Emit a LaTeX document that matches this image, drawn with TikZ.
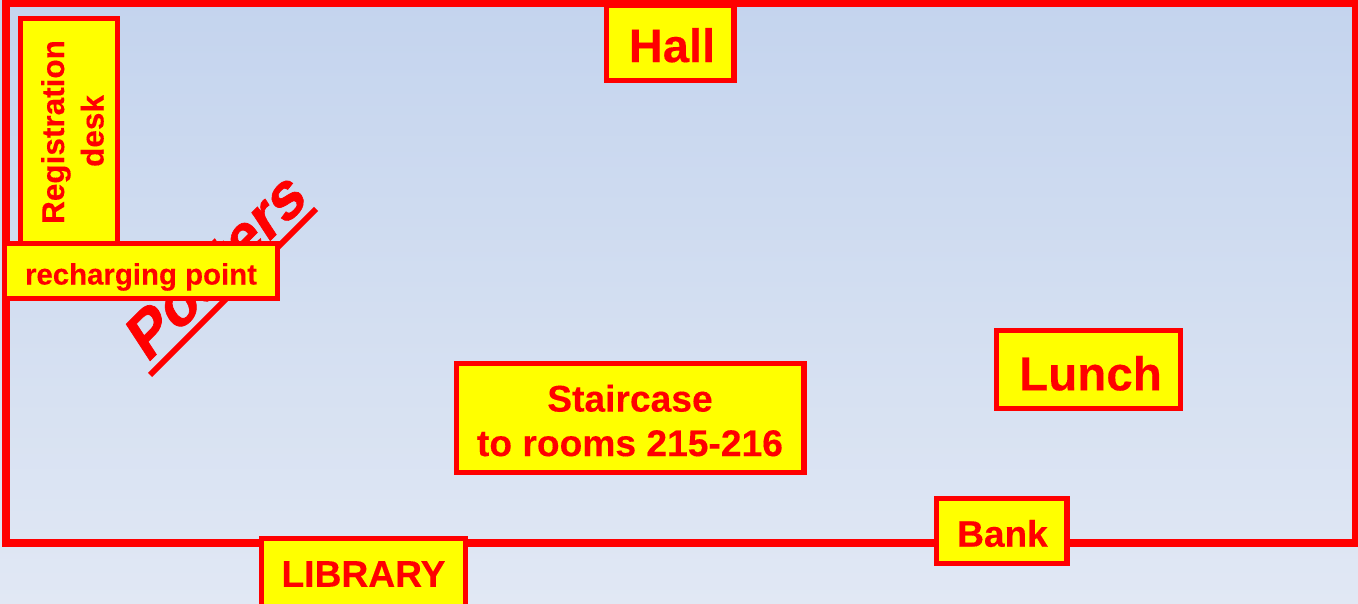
\documentclass[tikz,border=0pt]{standalone}
\usepackage{fontspec}
\setmainfont{Liberation Sans}[BoldFeatures={FakeBold=0.25}]
\newfontfamily\posterfont{Liberation Sans}[BoldFeatures={FakeBold=1.0}]
\definecolor{bgtop}{RGB}{196,212,238}
\definecolor{bgbot}{RGB}{225,232,244}
\definecolor{pureyellow}{RGB}{255,255,0}
\definecolor{purered}{RGB}{255,0,0}
\tikzset{
  x=1pt,y=-1pt,
  room/.style={draw=purered,line width=5.2pt,fill=pureyellow,inner sep=0pt},
  lab/.style={text=purered,font=\bfseries,inner sep=0pt,align=center},
}
\newcommand{\fsz}[1]{\fontsize{#1}{#1}\selectfont\bfseries}
\begin{document}
\begin{tikzpicture}
\useasboundingbox (0,0) rectangle (1358,604);
\clip (0,0) rectangle (1358,604);
\shade[top color=bgtop,bottom color=bgbot] (0,0) rectangle (1358,604);
\draw[purered,line width=8pt] (6,3) rectangle (1356,543);
% Posters: sheared lettering along the 45 degree line
\begin{scope}[shift={(147,364)}]
\node[lab,anchor=base west,font=\posterfont\fsz{58},cm={0.76,0.76,-0.6,0.92,(0pt,0pt)}] (posters) at (0,0) {Posters};
\end{scope}
\coordinate (ula) at (150,375);
\coordinate (ulb) at (316,209);
\draw[purered,line width=6pt] (ula) -- (ulb);
% rooms
\draw[room] (20.5,18.5) rectangle (117.5,250);
\node[lab,anchor=base,rotate=90,font=\fsz{31.5}] (reg) at (64,132) {Registration};
\node[lab,anchor=base,rotate=90,font=\fsz{31.5}] (desk) at (103.5,131) {desk};
\draw[room] (4.5,243.5) rectangle (277.5,298.5);
\node[lab,font=\fsz{29.4}] (rech) at (141,277) {recharging point};
\draw[room] (606.5,5.5) rectangle (734,80.5);
\node[lab,font=\fsz{47}] (hall) at (672,45.3) {Hall};
\draw[room] (456.5,363.5) rectangle (804,472.5);
\node[lab,font=\fsz{37.2}] (st1) at (630,398.3) {Staircase};
\node[lab,font=\fsz{37.2}] (st2) at (630,443.3) {to rooms 215-216};
\draw[room] (996.5,330.5) rectangle (1180.5,408.5);
\node[lab,font=\fsz{47.6}] (lunch) at (1090.5,373.3) {Lunch};
\draw[room] (936.5,498.5) rectangle (1067,563.5);
\node[lab,font=\fsz{37}] (bank) at (1002.5,533.5) {Bank};
\draw[room] (261.5,538.5) rectangle (465.5,612);
\node[lab,font=\fsz{37.2}] (lib) at (363.5,574) {LIBRARY};
\end{tikzpicture}
\end{document}
